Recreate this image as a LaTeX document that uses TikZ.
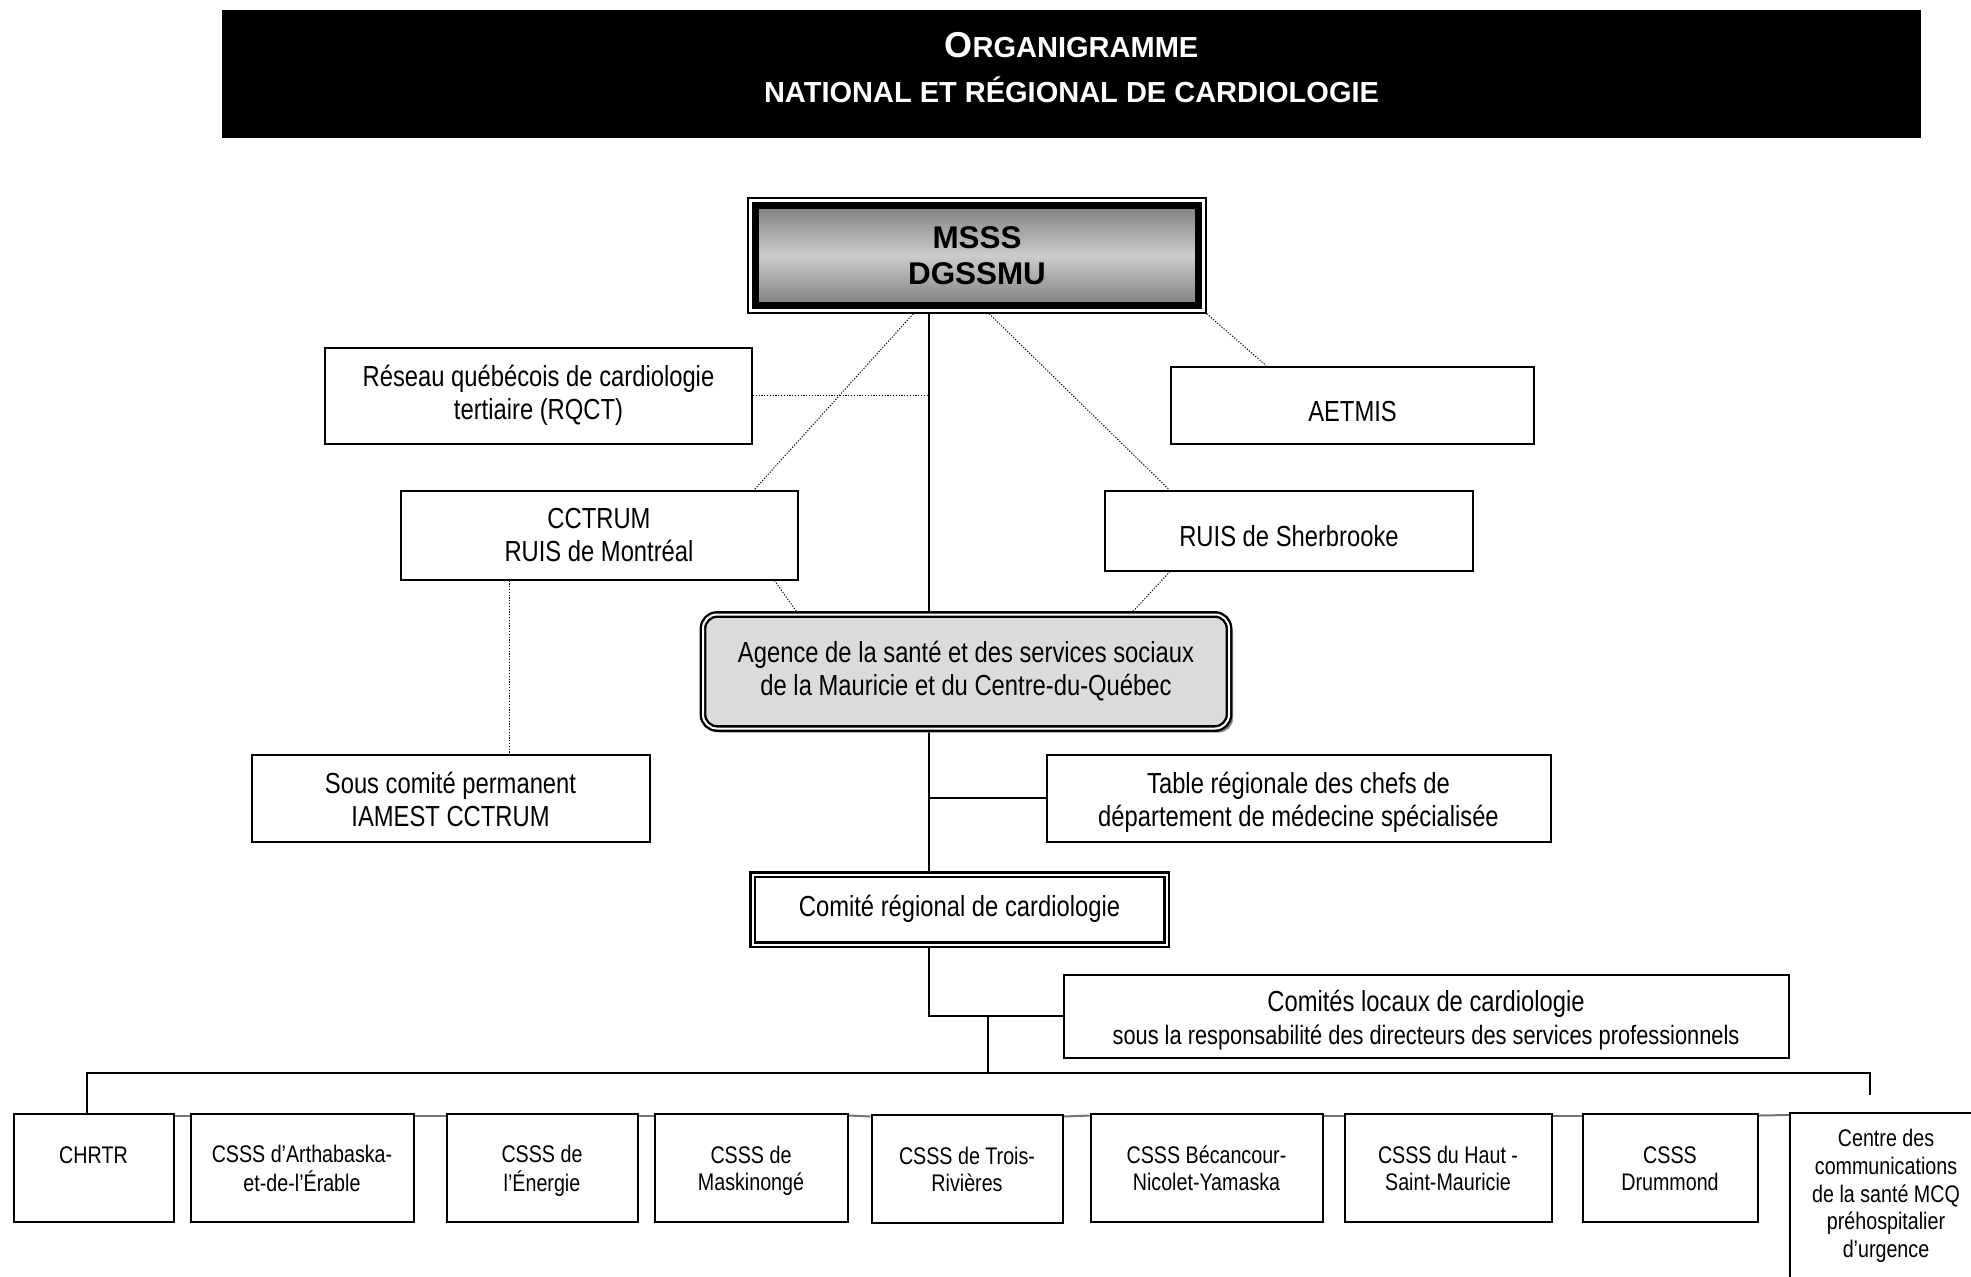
\documentclass[tikz,border=0pt]{standalone}
\usepackage{fontspec}
\setmainfont{Liberation Sans}
\newfontfamily\nar[FakeStretch=0.82]{Liberation Sans}
\usetikzlibrary{shadows}
\pgfdeclarelayer{bg}
\pgfdeclarelayer{background}
\pgfsetlayers{bg,background,main}
\newcommand{\tx}[2][0pt]{\raisebox{-#1}[\height][\depth]{\begin{tabular}{@{}c@{}}#2\end{tabular}}}
\begin{document}
\begin{tikzpicture}[x=0.5pt,y=-0.5pt,
  box/.style={draw, line width=1pt, inner sep=0pt, align=center, fill=white,
    font=\nar\fontsize{14.5}{16.5}\selectfont},
  sbox/.style={box, font=\nar\fontsize{12}{13.9}\selectfont, minimum height=54pt},
  dbl/.style={box, line width=1.2pt, double, double distance=1pt},
  dotl/.style={line width=0.5pt, dash pattern=on 0.6pt off 0.8pt},
  conn/.style={line width=1pt},
  gapline/.style={line width=1pt, black!55}
]
\useasboundingbox (0,0) rectangle (1971,1276);
\begin{pgfonlayer}{bg}
  \fill[white] (0,0) rectangle (1971,1276);
\end{pgfonlayer}
\clip (0,0) rectangle (1971,1276);

% title
\node[fill=black, minimum width=849.5pt, minimum height=64pt, inner sep=0pt] (title) at (1071.5,74) {};
\node[text=white, align=center, font=\bfseries\fontsize{14.5}{22.5}\selectfont] (titletext) at (1071.5,68)
  {{\fontsize{18}{22.5}\selectfont O}RGANIGRAMME\\NATIONAL ET RÉGIONAL DE CARDIOLOGIE};

% MSSS
\node[draw, line width=0.75pt, fill=white, minimum width=229pt, minimum height=57.5pt, inner sep=0pt] (mssso) at (977,255.5) {};
\node[draw, line width=3.5pt, minimum width=221.5pt, minimum height=50pt, inner sep=0pt,
  top color=black!50, bottom color=black!50, middle color=black!20, align=center,
  font=\bfseries\fontsize{15.7}{18}\selectfont] (msss) at (977,255.5) {MSSS\\DGSSMU};

% second level
\node[box, minimum width=213.5pt, minimum height=48pt] (reseau) at (538.5,395.5) {\tx[0.5pt]{Réseau québécois de cardiologie\\tertiaire (RQCT)}};
\node[box, minimum width=181.5pt, minimum height=38.5pt] (aetmis) at (1352.5,405) {\tx[5pt]{AETMIS}};
\node[box, minimum width=198.5pt, minimum height=44.5pt] (cctrum) at (599,535) {\tx[1.5pt]{CCTRUM\\RUIS de Montréal}};
\node[box, minimum width=184pt, minimum height=40pt] (ruis) at (1289,530.5) {\tx[4.5pt]{RUIS de Sherbrooke}};

% agence
\node[dbl, rounded corners=7pt, fill=black!14, minimum width=263pt, minimum height=57pt,
  drop shadow={shadow xshift=2pt, shadow yshift=-2pt, fill=black!45, opacity=1}] (agence) at (966,671.5)
  {\tx[0.5pt]{Agence de la santé et des services sociaux\\de la Mauricie et du Centre-du-Québec}};

\node[box, minimum width=199pt, minimum height=43.5pt] (sous) at (450.5,798) {\tx[2.5pt]{Sous comité permanent\\IAMEST CCTRUM}};
\node[box, minimum width=252pt, minimum height=43.5pt] (table) at (1298.5,798) {\tx[2.5pt]{Table régionale des chefs de\\département de médecine spécialisée}};
\node[dbl, minimum width=207pt, minimum height=35pt] (comite) at (959.5,909.5) {\tx{Comité régional de cardiologie}};
\node[box, minimum width=362.5pt, minimum height=41.5pt] (locaux) at (1426,1016)
  {\tx[2.5pt]{Comités locaux de cardiologie\\{\fontsize{13.3}{16}\selectfont sous la responsabilité des directeurs des services professionnels}}};

% bottom row
\node[sbox, minimum width=80pt] (chrtr) at (93.5,1167.5) {\tx[2pt]{CHRTR\\\mbox{}}};
\node[sbox, minimum width=111.5pt] (arth) at (302,1167.5) {\tx[2pt]{CSSS d’Arthabaska-\\et-de-l’Érable}};
\node[sbox, minimum width=95.5pt] (energie) at (542,1167.5) {\tx[2pt]{CSSS de\\l’Énergie}};
\node[sbox, minimum width=96.5pt] (mask) at (751,1167.5) {\tx[2pt]{CSSS de\\Maskinongé}};
\node[sbox, minimum width=95.5pt] (trois) at (967,1168.5) {\tx[2pt]{CSSS de Trois-\\Rivières}};
\node[sbox, minimum width=116pt] (becan) at (1206.5,1167.5) {\tx[2pt]{CSSS Bécancour-\\Nicolet-Yamaska}};
\node[sbox, minimum width=103.5pt] (haut) at (1448,1167.5) {\tx[2pt]{CSSS du Haut -\\Saint-Mauricie}};
\node[sbox, minimum width=87.5pt] (drum) at (1670,1167.5) {\tx[2pt]{CSSS\\Drummond}};
\node[sbox, minimum width=96pt, minimum height=82.5pt] (centre) at (1886,1195.5)
  {\tx[0.5pt]{Centre des\\communications\\de la santé MCQ\\préhospitalier\\d’urgence}};

% connectors
\coordinate (trunk) at (929,0);
\coordinate (busL) at (87,1073);
\coordinate (busR) at (1870,1073);
\coordinate (busRe) at (1870,1095);
\coordinate (busM) at (988,1073);
\coordinate (cc1) at ([xshift=55pt]cctrum.south west);

\begin{pgfonlayer}{background}
  \draw[conn] (mssso.south -| trunk) -- (agence.north -| trunk);
  \draw[conn] (agence.south -| trunk) -- (comite.north -| trunk);
  \draw[conn] (table.west -| trunk) -- (table.west);
  \draw[conn] (comite.south -| trunk) -- (locaux.west -| trunk) -- (locaux.west);
  \draw[conn] (locaux.west -| busM) -- (busM);
  \draw[conn] (chrtr.north -| busL) -- (busL) -- (busR) -- (busRe);

  \draw[dotl] (reseau.east) -- (reseau.east -| trunk);
  \draw[dotl] ([xshift=83pt]mssso.south west) -- ([xshift=-22pt]cctrum.north east);
  \draw[dotl] ([xshift=121pt]mssso.south west) -- ([xshift=32.5pt]ruis.north west);
  \draw[dotl] (mssso.south east) -- ([xshift=48pt]aetmis.north west);
  \draw[dotl] ([xshift=-12pt]cctrum.south east) -- ([xshift=48pt]agence.north west);
  \draw[dotl] ([xshift=33pt]ruis.south west) -- ([xshift=-49.5pt]agence.north east);
  \draw[dotl] (cc1) -- (cc1 |- sous.north);

  \foreach \a/\b in {chrtr/arth, arth/energie, energie/mask, mask/trois, trois/becan, becan/haut, haut/drum, drum/centre}
    \draw[gapline] ([yshift=-1.5pt]\a.north east) -- ([yshift=-1.5pt]\b.north west);
\end{pgfonlayer}
\end{tikzpicture}
\end{document}
